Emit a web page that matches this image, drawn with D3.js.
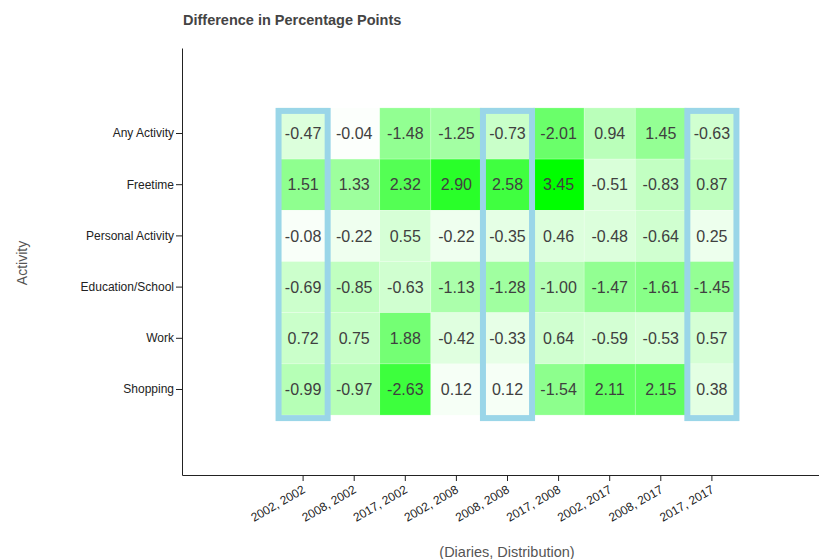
<!DOCTYPE html>
<html>
<head>
<meta charset="utf-8">
<script src="https://cdn.jsdelivr.net/npm/d3@7"></script>
<style>
  body { margin: 0; background: #fff; }
  svg { font-family: "Liberation Sans", Arial, sans-serif; }
</style>
</head>
<body>
<svg id="heatmap" width="819" height="559"></svg>
<script>
// Heatmap of differences, boxed columns where diaries year == distribution year

const activities = ["Any Activity", "Freetime", "Personal Activity", "Education/School", "Work", "Shopping"];
const pairs = ["2002, 2002", "2008, 2002", "2017, 2002", "2002, 2008", "2008, 2008",
               "2017, 2008", "2002, 2017", "2008, 2017", "2017, 2017"];
const highlighted = ["2002, 2002", "2008, 2008", "2017, 2017"];

const anyActivity = [-0.47, -0.04, -1.48, -1.25, -0.73, -2.01, 0.94, 1.45, -0.63];
const freetime = [1.51, 1.33, 2.32, 2.90, 2.58, 3.45, -0.51, -0.83, 0.87];
const personalActivity = [-0.08, -0.22, 0.55, -0.22, -0.35, 0.46, -0.48, -0.64, 0.25];
const educationSchool = [-0.69, -0.85, -0.63, -1.13, -1.28, -1.00, -1.47, -1.61, -1.45];
const work = [0.72, 0.75, 1.88, -0.42, -0.33, 0.64, -0.59, -0.53, 0.57];
const shopping = [-0.99, -0.97, -2.63, 0.12, 0.12, -1.54, 2.11, 2.15, 0.38];

const rows = [anyActivity, freetime, personalActivity, educationSchool, work, shopping];

const cells = [];
rows.forEach((vals, i) => {
    vals.forEach((v, j) => cells.push({ activity: activities[i], pair: pairs[j], value: v }));
});

const svg = d3.select("#heatmap");
const plotLeft = 182, plotTop = 48, plotBottom = 475, plotRight = 833;

const x = d3.scaleBand()
    .domain(pairs)
    .range([plotLeft, plotRight])
    .paddingInner(0)
    .paddingOuter(1.87);

const y = d3.scaleBand()
    .domain(activities)
    .range([plotTop, plotBottom])
    .paddingInner(0)
    .paddingOuter(1.17);

const maxAbs = d3.max(cells, d => Math.abs(d.value));
const color = d3.scaleLinear()
    .domain([0, maxAbs])
    .range(["#ffffff", "#00ff00"]);

// plain hyphen for negatives, like the original
const fmt = d3.formatLocale({ decimal: ".", thousands: ",", grouping: [3], currency: ["", ""], minus: "-" }).format(".2f");

svg.append("text")
    .attr("x", 183)
    .attr("y", 25)
    .attr("font-size", 14.5)
    .attr("font-weight", "bold")
    .attr("fill", "#444")
    .text("Difference in Percentage Points");

svg.selectAll("rect.cell")
    .data(cells)
    .enter().append("rect")
    .attr("class", "cell")
    .attr("x", d => x(d.pair))
    .attr("y", d => y(d.activity))
    .attr("width", x.bandwidth())
    .attr("height", y.bandwidth())
    .attr("fill", d => color(Math.abs(d.value)))
    .attr("stroke", "#ffffff")
    .attr("stroke-opacity", 0.35)
    .attr("stroke-width", 0.6);

svg.selectAll("text.val")
    .data(cells)
    .enter().append("text")
    .attr("class", "val")
    .attr("x", d => x(d.pair) + x.bandwidth() / 2)
    .attr("y", d => y(d.activity) + y.bandwidth() / 2)
    .attr("dy", "0.36em")
    .attr("text-anchor", "middle")
    .attr("font-size", 16)
    .attr("fill", "#404040")
    .text(d => fmt(d.value));

// outline boxes around the matching-year columns
const gridTop = y(activities[0]);
const gridH = y.step() * activities.length;
svg.selectAll("rect.box")
    .data(highlighted)
    .enter().append("rect")
    .attr("class", "box")
    .attr("x", d => x(d) + 1)
    .attr("y", gridTop + 3)
    .attr("width", x.bandwidth() - 2)
    .attr("height", gridH)
    .attr("fill", "none")
    .attr("stroke", "#9ad6e8")
    .attr("stroke-width", 6);

const yAxis = svg.append("g")
    .attr("transform", `translate(${plotLeft},0)`)
    .call(d3.axisLeft(y).tickSizeOuter(0).tickPadding(2));
yAxis.selectAll("text").attr("font-size", 12).attr("fill", "#222");
yAxis.selectAll("line, path").attr("stroke", "#222");

const xAxis = svg.append("g")
    .attr("transform", `translate(0,${plotBottom})`)
    .call(d3.axisBottom(x).tickSizeOuter(0));
xAxis.selectAll("text")
    .attr("font-size", 12)
    .attr("fill", "#222")
    .attr("text-anchor", "end")
    .attr("dx", "-0.5em")
    .attr("dy", "0.6em")
    .attr("transform", "rotate(-30)");
xAxis.selectAll("line, path").attr("stroke", "#222");

svg.append("text")
    .attr("transform", "translate(27,263) rotate(-90)")
    .attr("text-anchor", "middle")
    .attr("font-size", 14)
    .attr("fill", "#555")
    .text("Activity");

svg.append("text")
    .attr("x", 507)
    .attr("y", 557)
    .attr("text-anchor", "middle")
    .attr("font-size", 14.5)
    .attr("fill", "#555")
    .text("(Diaries, Distribution)");
</script>
</body>
</html>
